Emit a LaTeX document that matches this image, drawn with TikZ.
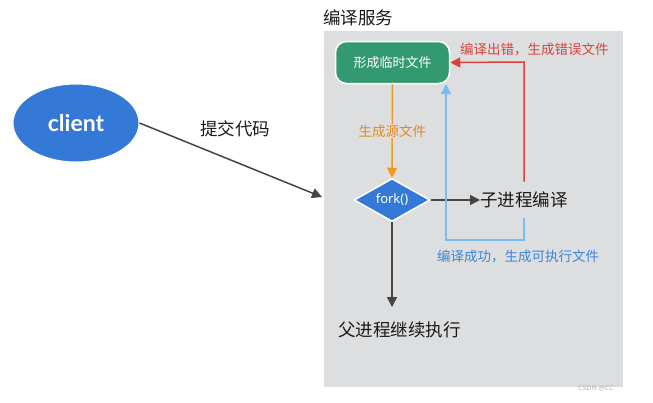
\documentclass[tikz,border=0pt]{standalone}
\usepackage{fontspec}
\setmainfont{Noto Sans}
\newfontfamily\cjk{Noto Sans CJK SC}
\newfontfamily\clientfont{Lato}
\usetikzlibrary{shapes.geometric,arrows.meta}
\definecolor{panelgray}{HTML}{DDDEE0}
\definecolor{boxgreen}{HTML}{339970}
\definecolor{nodeblue}{HTML}{3479D5}
\definecolor{errred}{HTML}{D9443A}
\definecolor{okblue}{HTML}{78BCF5}
\definecolor{oktext}{HTML}{3D85D8}
\definecolor{srcorange}{HTML}{F29A1F}
\definecolor{srctext}{HTML}{E08A1E}
\definecolor{darkline}{HTML}{444444}
\tikzset{
  conn/.style={line width=1.5pt,-{Triangle[length=10pt,width=10pt]}},
  cjklabel/.style={font=\cjk\fontsize{13.5}{15}\selectfont,inner sep=0pt},
  bigcjk/.style={font=\cjk\fontsize{17.5}{20}\selectfont,inner sep=0pt,text=black!90},
}
\begin{document}
\begin{tikzpicture}[x=1pt,y=-1pt]
\useasboundingbox (0,0) rectangle (653,402);
% panel
\fill[panelgray] (324,31) rectangle (623,387);
\node[bigcjk,anchor=west] (title) at (323,18) {编译服务};
% nodes
\node[draw=white,line width=1.5pt,fill=boxgreen,rounded corners=11pt,minimum width=114pt,minimum height=42pt,text=white,font=\cjk\fontsize{13}{15}\selectfont] (tmp) at (392.5,62.5) {形成临时文件};
\node[diamond,draw=white,line width=1.5pt,fill=nodeblue,minimum width=76pt,minimum height=43pt,inner sep=0pt,aspect=1.75,text=white,font=\fontsize{13}{15}\selectfont] (fork) at (392,200) {fork()};
\node[ellipse,draw=white,line width=1pt,fill=nodeblue,minimum width=126pt,minimum height=78pt,text=white,font=\clientfont\bfseries\fontsize{23}{25}\selectfont] (client) at (76,123) {client};
\node[bigcjk,anchor=west] (child) at (480,200) {子进程编译};
\node[bigcjk,anchor=west] (parent) at (338,330) {父进程继续执行};
\coordinate (submit) at (322,197);
% connectors
\draw[conn,darkline] (client.east) -- (submit);
\node[bigcjk] (submitlbl) at (235,129) {提交代码};
\draw[conn,srcorange] (tmp.south) -- (fork.north) node[midway,cjklabel,text=srctext,fill=panelgray,inner sep=1pt] {生成源文件};
\draw[conn,darkline] (fork.east) -- (child.west);
\draw[conn,darkline] (fork.south) -- (392,307);
\draw[conn,errred] (child.north -| 524,0) ++(0,-10) -- (524,62) -- (tmp.east);
\draw[conn,okblue] (child.south -| 524,0) ++(0,10) -- (524,240) -- (446,240) -- (446,84);
% labels
\node[cjklabel,text=errred,anchor=west] (errlbl) at (460,50) {编译出错，生成错误文件};
\node[cjklabel,text=oktext,anchor=west] (oklbl) at (437,256) {编译成功，生成可执行文件};
\node[anchor=west,font=\fontsize{7}{8}\selectfont,text=black!30,inner sep=0pt] (wm) at (578,388) {CSDN @CC};
\end{tikzpicture}
\end{document}
